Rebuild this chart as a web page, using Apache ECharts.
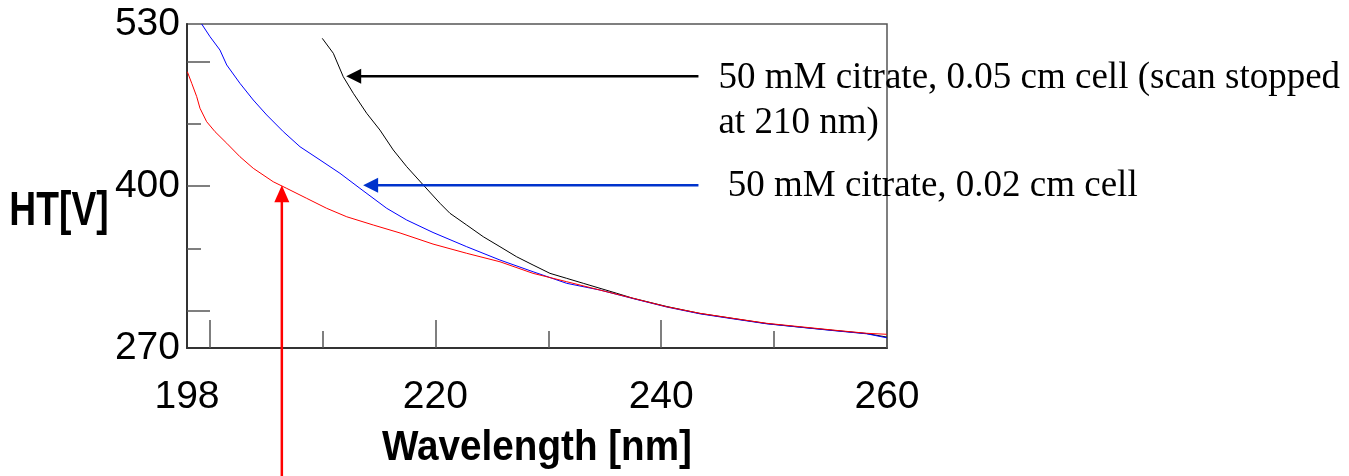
<!DOCTYPE html>
<html>
<head>
<meta charset="utf-8">
<script src="https://cdn.jsdelivr.net/npm/echarts@6/dist/echarts.min.js"></script>
<style>
  html, body { margin: 0; padding: 0; background: #ffffff; }
  #chart { width: 1349px; height: 476px; }
</style>
</head>
<body>
<div id="chart"></div>
<script>
// HT voltage vs. wavelength for three citrate measurements
const blackNm = [209.98, 210.96, 211.84, 212.73, 213.92, 215.09, 216.27, 217.46, 218.93, 220.41,
  221.29, 222.77, 224.24, 225.72, 227.20, 228.65, 230.15, 231.63, 233.10, 234.58,
  236.06, 237.50, 240.49, 243.44, 246.36, 249.35, 252.28, 255.21, 258.20, 259.97];
const blackHT = [518.5, 506.5, 487.7, 474.4, 458.3, 444.9, 428.9, 415.5, 400.8, 386.1,
  378.1, 368.7, 359.3, 351.3, 343.2, 336.6, 329.9, 325.9, 321.9, 317.9,
  313.9, 309.9, 303.3, 297.7, 293.7, 289.6, 286.8, 284.2, 281.6, 278.8];

const blueNm = [199.30, 200.04, 200.92, 201.52, 202.69, 203.87, 205.06, 206.53, 208.01, 209.78,
  211.55, 213.32, 215.69, 217.46, 219.79, 222.77, 225.72, 228.65, 231.63, 234.58,
  237.50, 240.49, 243.44, 246.36, 249.35, 252.28, 255.21, 258.20, 259.97];
const blueHT = [530.0, 519.8, 509.1, 497.1, 482.4, 469.0, 457.0, 443.6, 431.5, 420.9,
  410.2, 398.1, 382.1, 372.7, 362.7, 351.3, 340.6, 331.2, 321.9, 316.5,
  309.7, 302.9, 297.4, 293.4, 289.4, 286.7, 284.0, 281.4, 278.2];

const redNm = [198.03, 198.42, 198.86, 199.15, 199.74, 200.48, 201.52, 202.69, 203.87, 205.64,
  206.83, 208.60, 210.37, 212.15, 214.50, 216.87, 219.79, 222.77, 225.72, 228.65,
  231.63, 234.58, 237.50, 240.49, 243.44, 246.36, 249.35, 252.28, 255.21, 258.20, 259.97];
const redHT = [491.7, 482.4, 471.7, 462.4, 451.6, 443.6, 434.3, 423.5, 414.2, 403.4,
  398.1, 390.1, 382.1, 375.3, 368.7, 362.3, 353.4, 346.0, 339.2, 329.9,
  323.2, 316.5, 309.9, 303.1, 297.8, 293.8, 289.8, 287.1, 284.4, 281.8, 281.0];

// axis ticks and labels
const xLabelValues = [198, 220, 240, 260];
const xMajorTicks = [200, 220, 240, 260];
const xMinorTicks = [210, 230, 250];
const yLabelValues = [270, 400, 530];
const yMajorTicks = [300, 400, 500];
const yMinorTicks = [350, 450];

const xTitle = 'Wavelength [nm]';
const yTitle = 'HT[V]';

// annotation arrows: tip in data units [nm, HT], tails end at a common wavelength
const blackArrowTip = [212.1, 488.0];
const blueArrowTip = [213.6, 400.6];
const redArrowTip = [206.4, 400.6];
const arrowTailNm = 243.3;

const labelBlack1 = '50 mM citrate, 0.05 cm cell (scan stopped';
const labelBlack2 = 'at 210 nm)';
const labelBlue = ' 50 mM citrate, 0.02 cm cell';

const zip = (xs, ys) => xs.map((x, i) => [x, ys[i]]);

const sansFont = 'Liberation Sans, Arial, sans-serif';
const tickLine = { color: '#555', width: 1.5 };

const chart = echarts.init(document.getElementById('chart'), null, { renderer: 'canvas' });

chart.setOption({
  animation: false,
  backgroundColor: '#ffffff',
  grid: {
    left: 187, top: 24, right: 462, bottom: 128,
    outerBoundsMode: 'none', containLabel: false,
    show: true, borderColor: '#555', borderWidth: 1.5
  },
  xAxis: [
    {
      type: 'value', min: 198, max: 260, position: 'bottom',
      axisLine: { show: true, onZero: false, lineStyle: { color: '#333', width: 2 } },
      axisTick: { show: true, inside: true, length: 28, customValues: xMajorTicks, lineStyle: tickLine },
      axisLabel: {
        customValues: xLabelValues, color: '#000', fontSize: 39, fontFamily: sansFont,
        margin: 30, showMinLabel: true, showMaxLabel: true
      },
      splitLine: { show: false }
    },
    {
      type: 'value', min: 198, max: 260, position: 'bottom',
      axisLine: { show: false, onZero: false },
      axisTick: { show: true, inside: true, length: 17, customValues: xMinorTicks, lineStyle: tickLine },
      axisLabel: { show: false },
      splitLine: { show: false }
    }
  ],
  yAxis: [
    {
      type: 'value', min: 270, max: 530, position: 'left',
      axisLine: { show: true, onZero: false, lineStyle: { color: '#333', width: 2 } },
      axisTick: { show: true, inside: true, length: 23, customValues: yMajorTicks, lineStyle: tickLine },
      axisLabel: {
        customValues: yLabelValues, color: '#000', fontSize: 39, fontFamily: sansFont,
        margin: 7, showMinLabel: true, showMaxLabel: true
      },
      splitLine: { show: false }
    },
    {
      type: 'value', min: 270, max: 530, position: 'left',
      axisLine: { show: false, onZero: false },
      axisTick: { show: true, inside: true, length: 14, customValues: yMinorTicks, lineStyle: tickLine },
      axisLabel: { show: false },
      splitLine: { show: false }
    }
  ],
  series: [
    {
      name: '0.05 cm', type: 'line', data: zip(blackNm, blackHT),
      showSymbol: false, lineStyle: { color: '#000000', width: 1 }, z: 3
    },
    {
      name: '0.02 cm', type: 'line', data: zip(blueNm, blueHT),
      showSymbol: false, lineStyle: { color: '#0000ff', width: 1 }, z: 4
    },
    {
      name: 'red', type: 'line', data: zip(redNm, redHT),
      showSymbol: false, lineStyle: { color: '#ff0000', width: 1 }, z: 5
    }
  ]
});

// axis titles (condensed bold), arrows and annotation text
function overlayGraphics() {
  const px = p => chart.convertToPixel({ gridIndex: 0 }, p);
  const head = 15, half = 7.5;
  const els = [];

  const rect = chart.getModel().getComponent('grid', 0).coordinateSystem.getRect();
  const titleStyle = (text, size) => ({
    text, font: 'bold ' + size + 'px "Liberation Sans", Arial, sans-serif',
    fill: '#000', textAlign: 'center', textVerticalAlign: 'middle'
  });
  els.push({
    type: 'text', z: 11, x: rect.x + rect.width / 2, y: rect.y + rect.height + 100,
    scaleX: 0.92, style: titleStyle(xTitle, 42)
  });
  els.push({
    type: 'text', z: 11, x: rect.x - 128, y: rect.y + rect.height / 2 + 25,
    scaleX: 0.76, style: titleStyle(yTitle, 49)
  });

  function horizontalArrow(tip, color) {
    const t = px(tip);
    const tailX = px([arrowTailNm, tip[1]])[0];
    els.push({
      type: 'line', z: 10,
      shape: { x1: t[0] + head - 1, y1: t[1], x2: tailX, y2: t[1] },
      style: { stroke: color, lineWidth: 2.5 }
    });
    els.push({
      type: 'polygon', z: 10,
      shape: { points: [[t[0], t[1]], [t[0] + head, t[1] - half], [t[0] + head, t[1] + half]] },
      style: { fill: color }
    });
    return [tailX, t[1]];
  }

  const bTail = horizontalArrow(blackArrowTip, '#000000');
  const uTail = horizontalArrow(blueArrowTip, '#0033cc');

  const r = px(redArrowTip);
  els.push({
    type: 'line', z: 10,
    shape: { x1: r[0], y1: r[1] + head + 1, x2: r[0], y2: chart.getHeight() },
    style: { stroke: '#ff0000', lineWidth: 2.5 }
  });
  els.push({
    type: 'polygon', z: 10,
    shape: { points: [[r[0], r[1]], [r[0] - half, r[1] + head + 2], [r[0] + half, r[1] + head + 2]] },
    style: { fill: '#ff0000' }
  });

  const serif = '37px "Liberation Serif", "Times New Roman", serif';
  const textStyle = (text) => ({ text, font: serif, fill: '#000', textAlign: 'left', textVerticalAlign: 'middle' });
  els.push({ type: 'text', z: 11, x: bTail[0] + 20, y: bTail[1] + 2, style: textStyle(labelBlack1) });
  els.push({ type: 'text', z: 11, x: bTail[0] + 20, y: bTail[1] + 47, style: textStyle(labelBlack2) });
  els.push({ type: 'text', z: 11, x: uTail[0] + 20, y: uTail[1] + 1, style: textStyle(labelBlue) });
  return els;
}

chart.setOption({ graphic: overlayGraphics() });
</script>
</body>
</html>
